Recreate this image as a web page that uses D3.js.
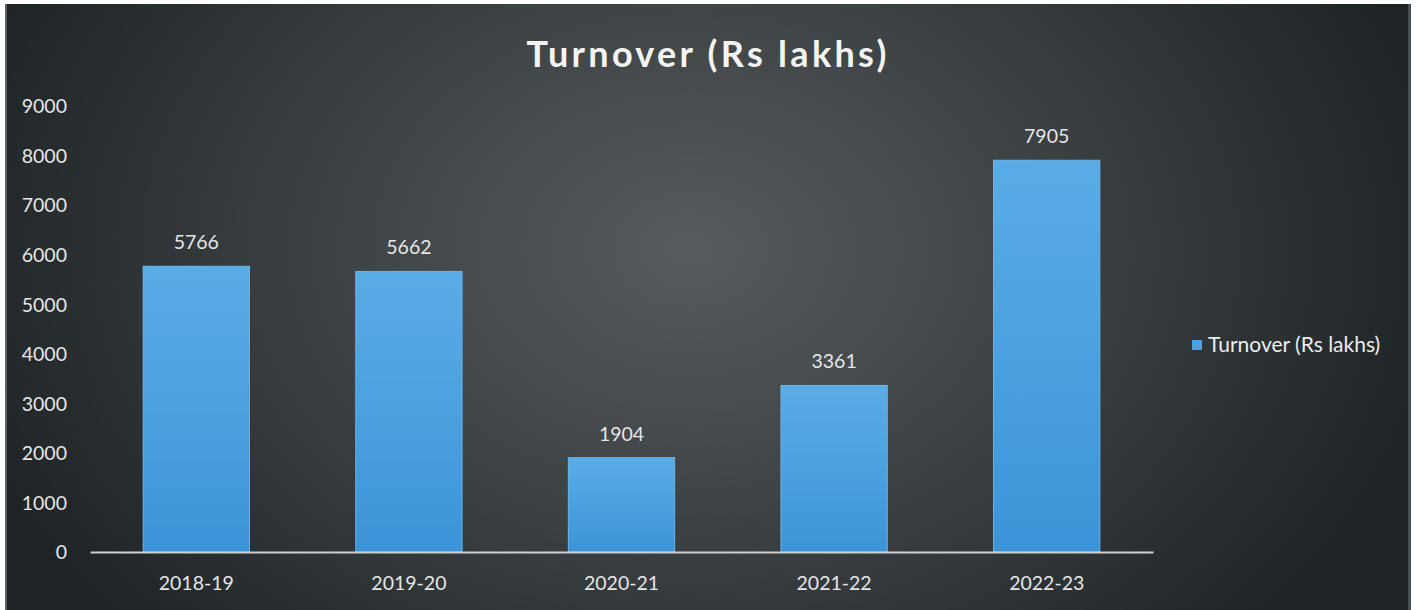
<!DOCTYPE html>
<html>
<head>
<meta charset="utf-8">
<script src="https://cdn.jsdelivr.net/npm/d3@7"></script>
<style>
  html, body { margin: 0; padding: 0; background: #ffffff; }
  svg { display: block; }
</style>
</head>
<body>
<div id="chart"></div>
<script>
// Turnover by financial year, Rs lakhs
const years = ["2018-19", "2019-20", "2020-21", "2021-22", "2022-23"];
const turnover = [5766, 5662, 1904, 3361, 7905];
const yTicks = [0, 1000, 2000, 3000, 4000, 5000, 6000, 7000, 8000, 9000];
const seriesName = "Turnover (Rs lakhs)";
const chartTitle = "Turnover (Rs lakhs)";

const W = 1421, H = 610;
const panel = { x: 5, y: 4, w: 1406, h: 606 };
const plot = { left: 90, right: 1153, top: 106, bottom: 552 };
const font = "Lato, 'Open Sans', sans-serif";
const labelSize = 19.5;

const svg = d3.select("#chart").append("svg")
  .attr("width", W).attr("height", H);

const defs = svg.append("defs");
const bg = defs.append("radialGradient")
  .attr("id", "bgGrad")
  .attr("gradientUnits", "userSpaceOnUse")
  .attr("cx", 690).attr("cy", 250).attr("r", 760)
  .attr("gradientTransform", "translate(690,250) scale(1,0.75) translate(-690,-250)");
bg.append("stop").attr("offset", "0%").attr("stop-color", "#575b5e");
bg.append("stop").attr("offset", "45%").attr("stop-color", "#3e4346");
bg.append("stop").attr("offset", "100%").attr("stop-color", "#1e2326");

const barGrad = defs.append("linearGradient")
  .attr("id", "barGrad").attr("x1", 0).attr("y1", 0).attr("x2", 0).attr("y2", 1);
barGrad.append("stop").attr("offset", "0%").attr("stop-color", "#5aace6");
barGrad.append("stop").attr("offset", "100%").attr("stop-color", "#3c94d8");

// chart panel
svg.append("rect")
  .attr("x", panel.x).attr("y", panel.y)
  .attr("width", panel.w).attr("height", panel.h)
  .attr("fill", "url(#bgGrad)");
svg.append("rect")
  .attr("x", panel.x).attr("y", panel.y)
  .attr("width", 2).attr("height", panel.h)
  .attr("fill", "#5c6165");
svg.append("rect")
  .attr("x", panel.x + panel.w - 3).attr("y", panel.y)
  .attr("width", 3).attr("height", panel.h)
  .attr("fill", "#4a4f53");

const x = d3.scaleBand()
  .domain(years)
  .range([plot.left, plot.right])
  .paddingInner(0.5)
  .paddingOuter(0.25);

const y = d3.scaleLinear()
  .domain([0, 9000])
  .range([plot.bottom, plot.top]);

// title
svg.append("text")
  .attr("x", 708).attr("y", 67)
  .attr("text-anchor", "middle")
  .attr("font-family", font)
  .attr("font-weight", 700)
  .attr("font-size", 36)
  .attr("letter-spacing", 3.3)
  .attr("fill", "#f4f4f4")
  .text(chartTitle);

// y axis labels
const yAxis = d3.axisLeft(y).tickValues(yTicks).tickFormat(d3.format("d"))
  .tickSize(0).tickPadding(0);
const yg = svg.append("g")
  .attr("transform", `translate(67,0)`)
  .call(yAxis);
yg.select(".domain").remove();
yg.selectAll("text")
  .attr("font-family", font)
  .attr("font-size", labelSize)
  .attr("fill", "#e6e6e6")
  .attr("dy", "0.35em");

// bars
svg.append("g").selectAll("rect")
  .data(turnover)
  .join("rect")
  .attr("x", (d, i) => x(years[i]))
  .attr("y", d => y(d))
  .attr("width", x.bandwidth())
  .attr("height", d => y(0) - y(d))
  .attr("fill", "url(#barGrad)")
  .attr("stroke", "#6ab4e8")
  .attr("stroke-width", 1);

// value labels
svg.append("g").selectAll("text")
  .data(turnover)
  .join("text")
  .attr("x", (d, i) => x(years[i]) + x.bandwidth() / 2)
  .attr("y", d => y(d) - 17)
  .attr("text-anchor", "middle")
  .attr("font-family", font)
  .attr("font-size", labelSize)
  .attr("fill", "#e6e6e6")
  .text(d => d);

// x axis
const xAxis = d3.axisBottom(x).tickSize(0).tickPadding(0);
const xg = svg.append("g")
  .attr("transform", `translate(0,${plot.bottom})`)
  .call(xAxis);
xg.select(".domain")
  .attr("stroke", "#cfcfcf")
  .attr("stroke-width", 2);
xg.selectAll("text")
  .attr("y", 31)
  .attr("dy", "0.35em")
  .attr("font-family", font)
  .attr("font-size", labelSize)
  .attr("fill", "#e6e6e6");

// legend
const lg = svg.append("g").attr("transform", "translate(1192,345)");
lg.append("rect")
  .attr("x", 0).attr("y", -5)
  .attr("width", 10).attr("height", 10)
  .attr("fill", "#4aa2e2");
lg.append("text")
  .attr("x", 16).attr("y", 0)
  .attr("dy", "0.35em")
  .attr("font-family", font)
  .attr("font-size", 21)
  .attr("fill", "#ededed")
  .text(seriesName);
</script>
</body>
</html>
